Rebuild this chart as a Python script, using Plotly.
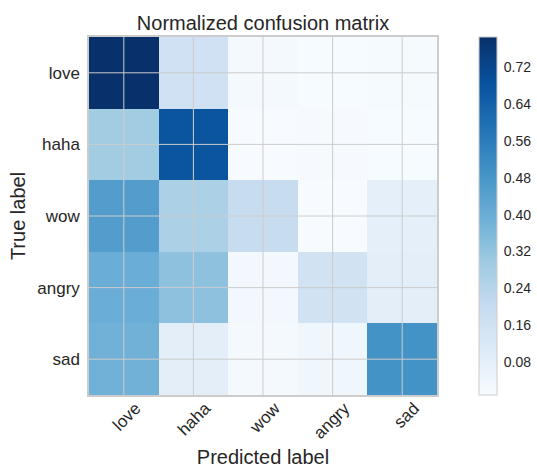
import plotly.graph_objects as go

labels = ["love", "haha", "wow", "angry", "sad"]
row_love = [0.785, 0.165, 0.020, 0.012, 0.018]
row_haha = [0.290, 0.675, 0.010, 0.013, 0.012]
row_wow = [0.455, 0.265, 0.195, 0.009, 0.080]
row_angry = [0.400, 0.330, 0.025, 0.160, 0.085]
row_sad = [0.385, 0.085, 0.020, 0.040, 0.490]
matrix = [row_love, row_haha, row_wow, row_angry, row_sad]
cbar_ticks = [0.08, 0.16, 0.24, 0.32, 0.40, 0.48, 0.56, 0.64, 0.72]

blues = [
    [0.0, "#f7fbff"], [0.125, "#deebf7"], [0.25, "#c6dbef"], [0.375, "#9ecae1"],
    [0.5, "#6baed6"], [0.625, "#4292c6"], [0.75, "#2171b5"], [0.875, "#08519c"],
    [1.0, "#08306b"],
]

font = "Liberation Sans, Arial, sans-serif"
txt = "#262626"

fig = go.Figure(go.Heatmap(
    z=matrix, x=labels, y=labels, colorscale=blues,
    zmin=0.009, zmax=0.785,
    colorbar=dict(
        x=1.121, xanchor="left", xpad=0, y=0.5, yanchor="middle", len=1.0,
        ypad=0, thickness=18, outlinecolor="#cccccc", outlinewidth=1,
        tickmode="array", tickvals=cbar_ticks, ticktext=[f"{v:.2f}" for v in cbar_ticks],
        ticks="outside", ticklen=4, tickcolor="rgba(0,0,0,0)",
        tickfont=dict(family=font, size=14, color=txt),
    ),
))

grid = "#cccccc"
for i in range(len(labels)):
    fig.add_shape(type="line", xref="x", yref="paper", x0=i, x1=i, y0=0, y1=1,
                  line=dict(color=grid, width=1), layer="above")
    fig.add_shape(type="line", xref="paper", yref="y", x0=0, x1=1, y0=i, y1=i,
                  line=dict(color=grid, width=1), layer="above")

fig.update_layout(
    width=537, height=468,
    margin=dict(l=89, r=100, t=37, b=73, autoexpand=False),
    paper_bgcolor="white", plot_bgcolor="white",
    font=dict(family=font, color=txt),
    title=dict(text="Normalized confusion matrix", x=0.5, xref="paper", xanchor="center",
               y=0.95, yanchor="middle", font=dict(size=20, color=txt)),
    xaxis=dict(tickangle=-45, tickfont=dict(size=17, color=txt), ticks="",
               ticklabelshift=12, ticklabelstandoff=-5,
               showgrid=False, zeroline=False, showline=True, linecolor="#cccccc",
               linewidth=1.5, mirror=True,
               title=dict(text="Predicted label", font=dict(size=20, color=txt), standoff=10)),
    yaxis=dict(autorange="reversed", tickfont=dict(size=17, color=txt), ticks="",
               showgrid=False, zeroline=False, showline=True, linecolor="#cccccc",
               linewidth=1.5, mirror=True, ticklabelstandoff=4,
               title=dict(text="True label", font=dict(size=20, color=txt), standoff=6)),
)

fig.write_html("out.html", config={"displayModeBar": False},
               post_script="document.body.style.margin='0';")
